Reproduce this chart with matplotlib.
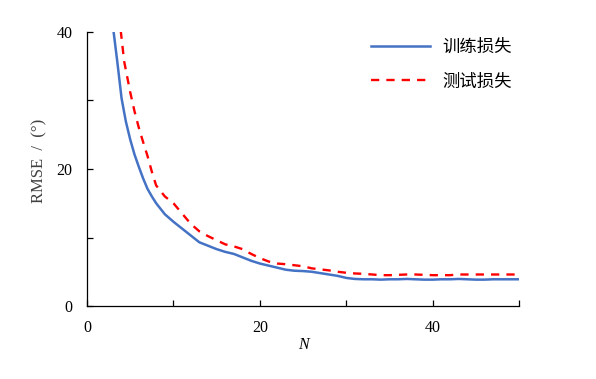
import matplotlib
matplotlib.use('Agg')
import matplotlib.pyplot as plt

plt.rcParams['font.family'] = ['Liberation Serif', 'Noto Sans CJK SC']

# training / test loss (RMSE in degrees) vs N
n_train = [3, 3.5, 4, 4.5, 5, 5.5, 6, 6.5, 7, 7.5, 8, 9, 10, 11, 12,
           13, 14, 15, 16, 17, 18, 19, 20, 21, 22, 23, 24, 25, 26, 27,
           28, 29, 30, 31, 32, 33, 34, 35, 36, 37, 38, 39, 40, 41, 42,
           43, 44, 45, 46, 47, 48, 49, 50]
rmse_train = [40.8, 35.7, 30.3, 26.9, 24.3, 22.1, 20.3, 18.6, 17.1, 16.0, 15.0, 13.4, 12.3, 11.3, 10.3,
              9.3, 8.8, 8.3, 7.9, 7.6, 7.1, 6.6, 6.2, 5.9, 5.6, 5.3, 5.15, 5.1, 5.0, 4.8,
              4.6, 4.4, 4.1, 3.95, 3.9, 3.9, 3.85, 3.9, 3.9, 3.95, 3.9, 3.85, 3.85, 3.9, 3.9,
              3.95, 3.9, 3.85, 3.85, 3.9, 3.9, 3.9, 3.9]

n_test = [3.9, 4.3, 5, 5.5, 6, 6.5, 7, 7.5, 8, 9, 10, 11, 12, 13, 14,
          15, 16, 17, 18, 19, 20, 21, 22, 23, 24, 25, 26, 27, 28, 29,
          30, 31, 32, 33, 34, 35, 36, 37, 38, 39, 40, 41, 42, 43, 44,
          45, 46, 47, 48, 49, 50]
rmse_test = [40.2, 35.7, 31.2, 28.4, 26.0, 23.9, 21.9, 19.6, 17.6, 16.0, 15.0, 13.5, 12.0, 10.9, 10.2,
             9.6, 9.0, 8.7, 8.3, 7.6, 7.0, 6.5, 6.2, 6.1, 5.95, 5.8, 5.5, 5.35, 5.2, 5.0,
             4.85, 4.75, 4.7, 4.6, 4.5, 4.5, 4.55, 4.6, 4.6, 4.55, 4.5, 4.5, 4.5, 4.6, 4.6,
             4.6, 4.6, 4.6, 4.6, 4.6, 4.6]

x_ticks = [0, 10, 20, 30, 40, 50]
y_ticks = [0, 10, 20, 30, 40]

fig = plt.figure(figsize=(5.96, 3.79), dpi=100)
ax = fig.add_axes([0.146, 0.1926, 0.725, 0.723])

ax.plot(n_train, rmse_train, color='#4472C4', lw=1.8, label='训练损失')
ax.plot(n_test, rmse_test, color='#FF0000', lw=1.7, dashes=(3.5, 3), label='测试损失')

ax.set_xlim(0, 50)
ax.set_ylim(0, 40)
ax.set_xticks(x_ticks)
ax.set_xticklabels([str(t) if t % 20 == 0 else '' for t in x_ticks])
ax.set_yticks(y_ticks)
ax.set_yticklabels([str(t) if t % 20 == 0 else '' for t in y_ticks])
ax.tick_params(direction='in', length=4.5, width=0.9, labelsize=11.5, pad=10)
ax.tick_params(axis='y', pad=10.5)

for s in ['top', 'right']:
    ax.spines[s].set_visible(False)
for s in ['left', 'bottom']:
    ax.spines[s].set_linewidth(0.9)

ax.set_xlabel('N', fontstyle='italic', fontsize=11.5, labelpad=1)
ax.set_ylabel('RMSE  /  (°)', fontsize=12, color='#404040')
ax.yaxis.set_label_coords(-0.092, 0.53)

leg = ax.legend(loc='upper right', bbox_to_anchor=(1.02, 1.035), frameon=False,
                handlelength=3.4, handletextpad=0.75, labelspacing=0.95,
                prop={'family': ['Noto Sans CJK SC'], 'size': 12.5})

fig.savefig('out.png', dpi=100)
